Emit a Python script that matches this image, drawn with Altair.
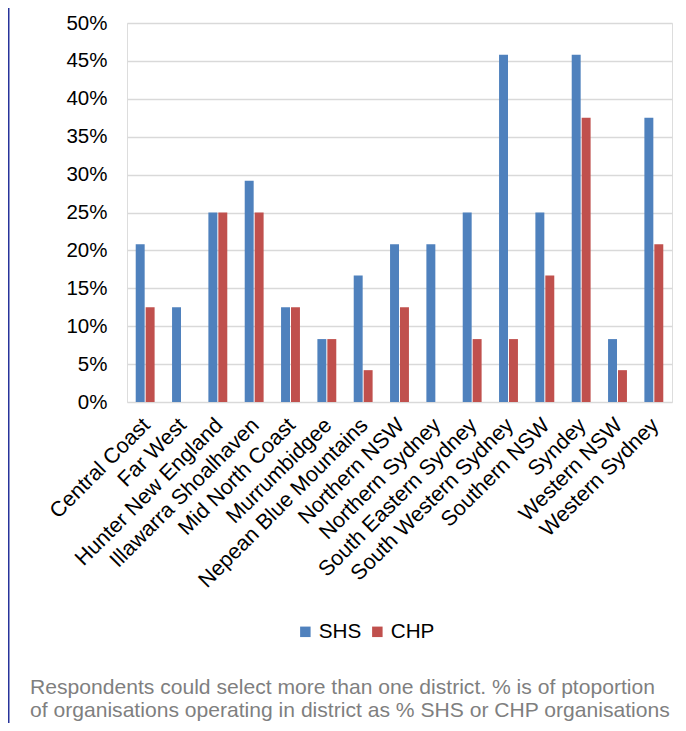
import altair as alt
import pandas as pd

districts = ["Central Coast", "Far West", "Hunter New England", "Illawarra Shoalhaven",
             "Mid North Coast", "Murrumbidgee", "Nepean Blue Mountains", "Northern NSW",
             "Northern Sydney", "South Eastern Sydney", "South Western Sydney",
             "Southern NSW", "Syndey", "Western NSW", "Western Sydney"]
shs = [0.208, 0.125, 0.25, 0.292, 0.125, 0.083, 0.167, 0.208, 0.208, 0.25, 0.458,
       0.25, 0.458, 0.083, 0.375]
chp = [0.125, 0.0, 0.25, 0.25, 0.125, 0.083, 0.042, 0.125, 0.0, 0.083, 0.083,
       0.167, 0.375, 0.042, 0.208]
series = ["SHS", "CHP"]
colors = ["#4F81BD", "#C0504D"]
y_ticks = [0, 0.05, 0.10, 0.15, 0.20, 0.25, 0.30, 0.35, 0.40, 0.45, 0.50]
caption_lines = [
    "Respondents could select more than one district. % is of ptoportion",
    "of organisations operating in district as % SHS or CHP organisations",
]

rows = []
for d, a, b in zip(districts, shs, chp):
    rows.append({"district": d, "series": "SHS", "value": a})
    rows.append({"district": d, "series": "CHP", "value": b})
df = pd.DataFrame(rows)

FONT = "Liberation Sans"

bars = alt.Chart(df).mark_bar().encode(
    x=alt.X("district:N", sort=districts,
            scale=alt.Scale(paddingInner=0.48, paddingOuter=0.24),
            axis=alt.Axis(title=None, labelAngle=-45, labelFontSize=21.5, labelFont=FONT,
                          labelColor="#000000", domain=False, ticks=False, labelPadding=12,
                          labelOffset=-6, labelLimit=400)),
    xOffset=alt.XOffset("series:N", sort=series,
                        scale=alt.Scale(domain=series, paddingInner=0.1)),
    y=alt.Y("value:Q", scale=alt.Scale(domain=[0, 0.5], nice=False),
            axis=alt.Axis(title=None, values=y_ticks, format=".0%", labelFontSize=20.5,
                          labelFont=FONT, labelColor="#000000", domain=False, ticks=False,
                          labelPadding=20, gridColor="#D9D9D9", gridWidth=1.5)),
    color=alt.Color("series:N", sort=series,
                    scale=alt.Scale(domain=series, range=colors),
                    legend=alt.Legend(title=None, orient="none", direction="horizontal",
                                      legendX=168, legendY=598, symbolType="square",
                                      symbolSize=110, symbolStrokeWidth=0,
                                      labelFontSize=20.7, labelFont=FONT,
                                      labelColor="#000000", labelOffset=3,
                                      columnPadding=5)),
)

border = alt.Chart(pd.DataFrame({"k": [0]})).mark_rule(
    color="#27339A", strokeWidth=2
).encode(x=alt.value(-118.5), y=alt.value(-30), y2=alt.value(720))

caption = alt.Chart(pd.DataFrame({"k": [0]})).mark_text(
    text=caption_lines, align="left", baseline="middle", fontSize=21.1, font=FONT,
    color="#7F7F7F", lineHeight=23
).encode(x=alt.value(-97), y=alt.value(665))

chart = alt.layer(bars, border, caption).properties(
    width=545, height=379,
    autosize=alt.AutoSizeParams(type="none"),
    padding={"left": 119, "top": 15, "right": 6, "bottom": 321},
).configure_view(stroke=None).configure(background="white")

chart.save("out.html", embed_options={"renderer": "svg", "actions": False})
